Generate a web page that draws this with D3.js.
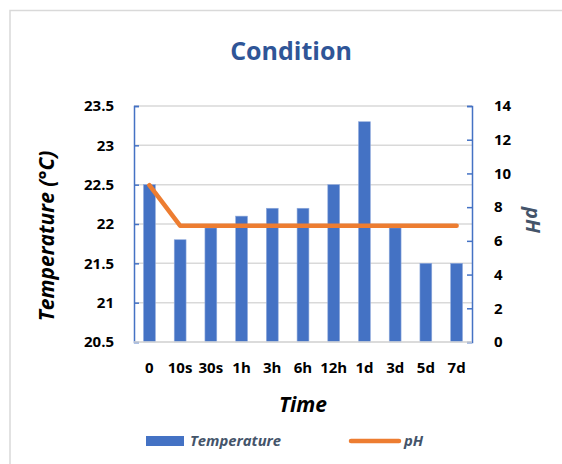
<!DOCTYPE html>
<html>
<head>
<meta charset="utf-8">
<script src="https://cdn.jsdelivr.net/npm/d3@7"></script>
<style>
	body { margin: 0; background: #fff; }
	text { font-family: 'Open Sans', 'Noto Sans', sans-serif; }
</style>
</head>
<body>
<script>

// Data uit de grafiek
const times = [ '0', '10s', '30s', '1h', '3h', '6h', '12h', '1d', '3d', '5d', '7d' ],
	temperature = [ 22.5, 21.8, 21.95, 22.1, 22.2, 22.2, 22.5, 23.3, 21.95, 21.5, 21.5 ],
	ph = [ 9.3, 6.9, 6.9, 6.9, 6.9, 6.9, 6.9, 6.9, 6.9, 6.9, 6.9 ],
	tempTicks = [ 20.5, 21, 21.5, 22, 22.5, 23, 23.5 ],
	phTicks = [ 0, 2, 4, 6, 8, 10, 12, 14 ]

const width = 562,
	height = 464,
	plotLeft = 134,
	plotRight = 472,
	plotTop = 106,
	plotBottom = 342,
	blue = '#4472c4',
	orange = '#ed7d31',
	slate = '#44546a'

const svg = d3.select( 'body' )
	.append( 'svg' )
	.attr( 'width', width )
	.attr( 'height', height )

// Rand om de chart
svg.append( 'rect' )
	.attr( 'x', 10 )
	.attr( 'y', 10.5 )
	.attr( 'width', 600 )
	.attr( 'height', 500 )
	.attr( 'fill', 'none' )
	.attr( 'stroke', '#d9d9d9' )
	.attr( 'stroke-width', 1.5 )

const x = d3.scaleBand()
		.domain( times )
		.range( [ plotLeft, plotRight ] )
		.paddingInner( 0.615 )
		.paddingOuter( 0.31 ),

	xPoint = d3.scalePoint()
		.domain( times )
		.range( [ plotLeft, plotRight ] )
		.padding( 0.5 ),

	yTemp = d3.scaleLinear()
		.domain( [ 20.5, 23.5 ] )
		.range( [ plotBottom, plotTop ] ),

	yPh = d3.scaleLinear()
		.domain( [ 0, 14 ] )
		.range( [ plotBottom, plotTop ] )

// Gridlijnen
svg.append( 'g' )
	.selectAll( 'line' )
	.data( tempTicks )
	.enter()
	.append( 'line' )
	.attr( 'x1', plotLeft )
	.attr( 'x2', plotRight )
	.attr( 'y1', d => yTemp( d ) )
	.attr( 'y2', d => yTemp( d ) )
	.attr( 'stroke', '#d9d9d9' )
	.attr( 'stroke-width', 1.5 )

// Staven
svg.append( 'g' )
	.selectAll( 'rect' )
	.data( temperature )
	.enter()
	.append( 'rect' )
	.attr( 'x', ( d, i ) => x( times[ i ] ) )
	.attr( 'width', x.bandwidth() )
	.attr( 'y', d => yTemp( d ) )
	.attr( 'height', d => plotBottom - yTemp( d ) )
	.attr( 'fill', blue )
	.attr( 'stroke', '#8faadc' )
	.attr( 'stroke-width', 0.6 )

// Linker as
const leftAxis = svg.append( 'g' )
	.attr( 'transform', `translate( ${ plotLeft }, 0 )` )
	.call( d3.axisLeft( yTemp )
		.tickValues( tempTicks )
		.tickSize( -5 )
		.tickPadding( 20 )
		.tickFormat( d => d ) )

// Rechter as
const rightAxis = svg.append( 'g' )
	.attr( 'transform', `translate( ${ plotRight }, 0 )` )
	.call( d3.axisRight( yPh )
		.tickValues( phTicks )
		.tickSize( -5 )
		.tickPadding( 22 ) )

;[ leftAxis, rightAxis ].forEach( ax => {
	ax.select( '.domain' ).attr( 'stroke', blue ).attr( 'stroke-width', 1.5 )
	ax.selectAll( '.tick line' ).attr( 'stroke', blue ).attr( 'stroke-width', 1.5 )
	ax.selectAll( '.tick text' )
		.attr( 'fill', '#000' )
		.style( 'font-size', '15px' )
		.style( 'font-weight', 'bold' )
})

// Onderste as
svg.append( 'line' )
	.attr( 'x1', plotLeft )
	.attr( 'x2', plotRight )
	.attr( 'y1', plotBottom )
	.attr( 'y2', plotBottom )
	.attr( 'stroke', '#d9d9d9' )
	.attr( 'stroke-width', 1.5 )

svg.append( 'g' )
	.selectAll( 'text' )
	.data( times )
	.enter()
	.append( 'text' )
	.attr( 'x', d => xPoint( d ) )
	.attr( 'y', 373 )
	.attr( 'text-anchor', 'middle' )
	.style( 'font-size', '15px' )
	.style( 'font-weight', 'bold' )
	.text( d => d )

// pH lijn
svg.append( 'path' )
	.datum( ph )
	.attr( 'fill', 'none' )
	.attr( 'stroke', orange )
	.attr( 'stroke-width', 4.5 )
	.attr( 'stroke-linecap', 'round' )
	.attr( 'stroke-linejoin', 'round' )
	.attr( 'd', d3.line()
		.x( ( d, i ) => xPoint( times[ i ] ) )
		.y( d => yPh( d ) ) )

// Titels
svg.append( 'text' )
	.attr( 'x', 291 )
	.attr( 'y', 60 )
	.attr( 'text-anchor', 'middle' )
	.attr( 'fill', '#2f5597' )
	.style( 'font-size', '25px' )
	.style( 'font-weight', 'bold' )
	.text( 'Condition' )

svg.append( 'text' )
	.attr( 'x', 303 )
	.attr( 'y', 412 )
	.attr( 'text-anchor', 'middle' )
	.style( 'font-size', '21px' )
	.style( 'font-weight', 'bold' )
	.style( 'font-style', 'italic' )
	.text( 'Time' )

svg.append( 'text' )
	.attr( 'transform', 'translate( 54, 236 ) rotate( -90 )' )
	.attr( 'text-anchor', 'middle' )
	.style( 'font-size', '21px' )
	.style( 'font-weight', 'bold' )
	.style( 'font-style', 'italic' )
	.text( 'Temperature (°C)' )

svg.append( 'text' )
	.attr( 'transform', 'translate( 526, 220 ) rotate( 90 )' )
	.attr( 'text-anchor', 'middle' )
	.attr( 'fill', slate )
	.style( 'font-size', '20px' )
	.style( 'font-weight', 'bold' )
	.style( 'font-style', 'italic' )
	.text( 'pH' )

// Legenda
svg.append( 'rect' )
	.attr( 'x', 146 )
	.attr( 'y', 436 )
	.attr( 'width', 38 )
	.attr( 'height', 10 )
	.attr( 'fill', blue )

svg.append( 'text' )
	.attr( 'x', 190 )
	.attr( 'y', 446 )
	.attr( 'fill', slate )
	.style( 'font-size', '14.8px' )
	.style( 'font-weight', 'bold' )
	.style( 'font-style', 'italic' )
	.text( 'Temperature' )

svg.append( 'line' )
	.attr( 'x1', 351 )
	.attr( 'x2', 399 )
	.attr( 'y1', 441 )
	.attr( 'y2', 441 )
	.attr( 'stroke', orange )
	.attr( 'stroke-width', 4.5 )
	.attr( 'stroke-linecap', 'round' )

svg.append( 'text' )
	.attr( 'x', 404 )
	.attr( 'y', 446 )
	.attr( 'fill', slate )
	.style( 'font-size', '14.8px' )
	.style( 'font-weight', 'bold' )
	.style( 'font-style', 'italic' )
	.text( 'pH' )

</script>
</body>
</html>
